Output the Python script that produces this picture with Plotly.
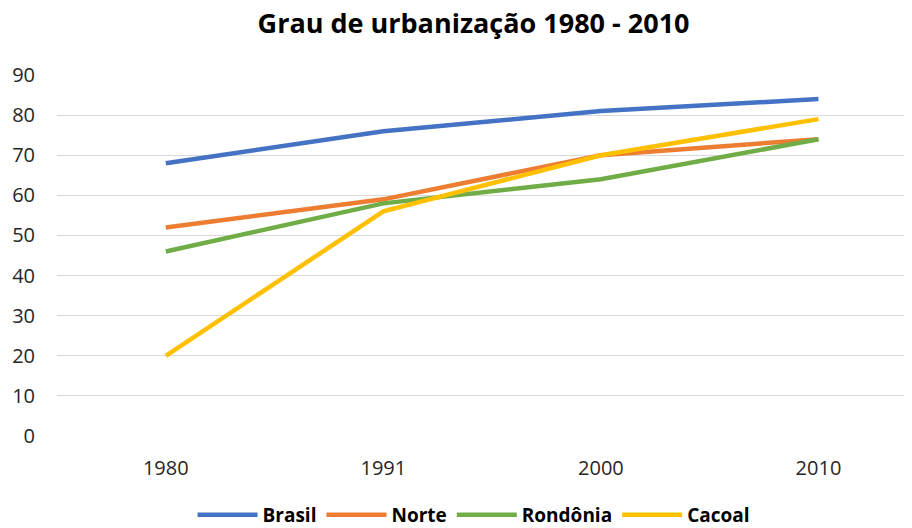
import plotly.graph_objects as go

anos = ["1980", "1991", "2000", "2010"]
brasil = [68, 76, 81, 84]
norte = [52, 59, 70, 74]
rondonia = [46, 58, 64, 74]
cacoal = [20, 56, 70, 79]

series = [
    ("Brasil", brasil, "#4472C4"),
    ("Norte", norte, "#ED7D31"),
    ("Rondônia", rondonia, "#70AD47"),
    ("Cacoal", cacoal, "#FFC000"),
]

font_family = "Open Sans, Liberation Sans, sans-serif"

fig = go.Figure()
for name, vals, color in series:
    fig.add_trace(go.Scatter(
        x=anos, y=vals, name=name, mode="lines",
        line=dict(color=color, width=4.5),
    ))

# the page body adds an 8px offset, so the figure is 904x520
fig.update_layout(
    width=904, height=520,
    margin=dict(l=49, r=0, t=67, b=92, autoexpand=False),
    plot_bgcolor="white", paper_bgcolor="white",
    font=dict(family=font_family, size=20, color="#262626"),
    title=dict(
        text="<b>Grau de urbanização 1980 - 2010</b>",
        x=0.515, xanchor="center", xref="container",
        yref="container", y=0.971, yanchor="middle",
        font=dict(size=27, color="#000000", family=font_family),
    ),
    xaxis=dict(
        type="category", range=[-0.5, 3.43], automargin=False,
        showgrid=False, zeroline=False, showline=False,
        ticks="outside", ticklen=14, tickcolor="rgba(0,0,0,0)",
        tickfont=dict(size=20),
    ),
    yaxis=dict(
        range=[0, 90], dtick=10, tick0=0, automargin=False,
        showgrid=True, gridcolor="#D9D9D9", gridwidth=1.3,
        zeroline=False, showline=False,
        ticks="outside", ticklen=17, tickcolor="rgba(0,0,0,0)",
        tickfont=dict(size=20),
    ),
    legend=dict(
        orientation="h", x=0.515, xanchor="center", xref="container",
        yref="container", y=0.025, yanchor="middle",
        font=dict(size=19, color="#000000", family=font_family, weight="bold"),
        itemwidth=60, tracegroupgap=0,
        traceorder="normal",
    ),
    showlegend=True,
)

fig.write_html("out.html")
